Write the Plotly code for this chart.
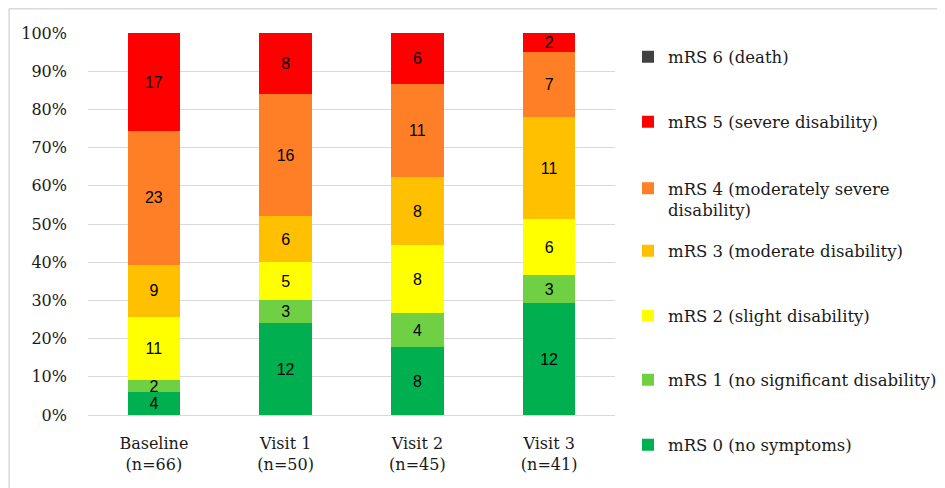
import plotly.graph_objects as go

categories = ["Baseline<br>(n=66)", "Visit 1<br>(n=50)", "Visit 2<br>(n=45)", "Visit 3<br>(n=41)"]
series_names = [
    "mRS 0 (no symptoms)",
    "mRS 1 (no significant disability)",
    "mRS 2 (slight disability)",
    "mRS 3 (moderate disability)",
    "mRS 4 (moderately severe<br>disability)",
    "mRS 5 (severe disability)",
    "mRS 6 (death)",
]
mrs0 = [4, 12, 8, 12]
mrs1 = [2, 3, 4, 3]
mrs2 = [11, 5, 8, 6]
mrs3 = [9, 6, 8, 11]
mrs4 = [23, 16, 11, 7]
mrs5 = [17, 8, 6, 2]
mrs6 = [0, 0, 0, 0]
series_values = [mrs0, mrs1, mrs2, mrs3, mrs4, mrs5, mrs6]
colors = ["#00B050", "#70D044", "#FFFF00", "#FFC000", "#FF7F27", "#FF0000", "#404040"]

OFF = 8  # page body margin
W, H = 945, 488
# plot area in screenshot coordinates
L, R, T, B = 88, 616, 33, 415
pw, ph = R - L, B - T

serif = "DejaVu Serif"
txtcol = "#1A1A1A"
fig = go.Figure()

legend_px = [445, 380, 316, 251, 182, 122, 57]
legend_x_px = 628

layout_legends = {}
for i, (name, vals, col) in enumerate(zip(series_names, series_values, colors)):
    lname = "legend" if i == 0 else f"legend{i+1}"
    fig.add_trace(go.Bar(
        x=categories, y=vals, name=name, marker_color=col,
        marker_line_width=0,
        text=[str(v) if v > 0 else "" for v in vals],
        texttemplate="%{text}", textposition="inside",
        insidetextanchor="middle", textangle=0,
        textfont=dict(family="Liberation Sans, Arial", size=16, color="black"),
        constraintext="none",
        legend=lname,
        hoverinfo="skip",
    ))
    cy = legend_px[i]
    if "<br>" in name:
        ypaper = (B - (cy - 11)) / ph
        yanchor = "top"
    else:
        ypaper = (B - cy) / ph
        yanchor = "middle"
    layout_legends[lname] = dict(
        x=(legend_x_px - L) / pw, xanchor="left",
        y=ypaper, yanchor=yanchor, valign="top",
        font=dict(family=serif, size=16.5, color=txtcol),
        bgcolor="rgba(0,0,0,0)", borderwidth=0,
    )

fig.update_layout(
    width=W, height=H,
    margin=dict(l=L - OFF, r=W - (R - OFF), t=T - OFF, b=H - (B - OFF), pad=0),
    barmode="stack", barnorm="percent", bargap=0.6,
    plot_bgcolor="white", paper_bgcolor="white",
    showlegend=True,
    **layout_legends,
    yaxis=dict(
        range=[0, 100], dtick=10, ticksuffix="%",
        showgrid=True, gridcolor="#D9D9D9", gridwidth=1,
        zeroline=False, showline=False,
        tickfont=dict(family=serif, size=16, color=txtcol),
        ticks="", ticklabelstandoff=20,
    ),
    xaxis=dict(
        showgrid=False, showline=True, linecolor="#D9D9D9", linewidth=1,
        tickfont=dict(family=serif, size=16, color=txtcol),
        ticks="", ticklabelstandoff=14,
    ),
    shapes=[
        dict(type="line", xref="paper", yref="paper",
             x0=(9 - L) / pw, x1=(960 - L) / pw,
             y0=(B - 8.7) / ph, y1=(B - 8.7) / ph,
             line=dict(color="#D9D9D9", width=1.5)),
        dict(type="line", xref="paper", yref="paper",
             x0=(9 - L) / pw, x1=(9 - L) / pw,
             y0=(B - 8.7) / ph, y1=(B - 500) / ph,
             line=dict(color="#D9D9D9", width=1.5)),
    ],
)

fig.write_html("out.html")
